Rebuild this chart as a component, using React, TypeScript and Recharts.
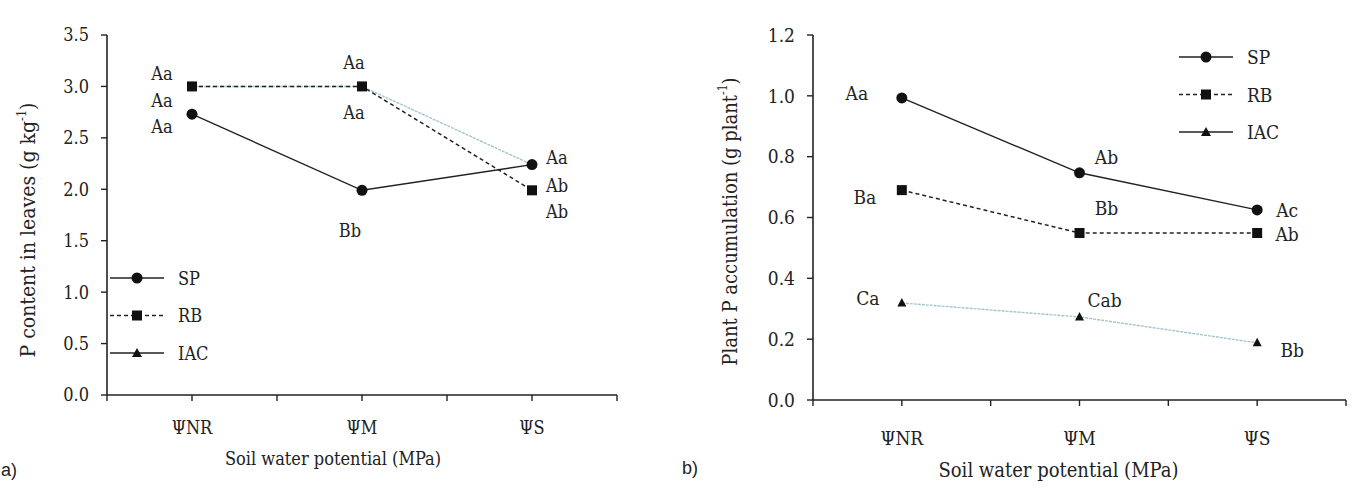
import React from 'react';
import { LineChart, Line, XAxis, YAxis, Legend, LabelList, Label } from 'recharts';

// categories on a numeric x axis (ticks 0..6, treatments at 1, 3, 5)
const categories = ['ΨNR', 'ΨM', 'ΨS'];
const catPos = [1, 3, 5];
const xTicks = [0, 1, 2, 3, 4, 5, 6];

// a) P content in leaves (g kg-1)
const leafSP = [2.73, 1.99, 2.24];
const leafRB = [3.0, 3.0, 1.99];
const leafIAC = [3.0, 3.0, 2.24];
const leafSPLetters = ['Aa', 'Bb', 'Aa'];
const leafRBLetters = ['Aa', 'Aa', 'Ab'];
const leafIACLetters = ['Aa', 'Aa', 'Ab'];
const leafTicks = [0, 0.5, 1, 1.5, 2, 2.5, 3, 3.5];

// b) Plant P accumulation (g plant-1)
const accSP = [0.993, 0.747, 0.625];
const accRB = [0.69, 0.549, 0.549];
const accIAC = [0.319, 0.273, 0.188];
const accSPLetters = ['Aa', 'Ab', 'Ac'];
const accRBLetters = ['Ba', 'Bb', 'Ab'];
const accIACLetters = ['Ca', 'Cab', 'Bb'];
const accTicks = [0, 0.2, 0.4, 0.6, 0.8, 1.0, 1.2];

const FONT = "'DejaVu Serif Condensed', 'DejaVu Serif', serif";
const SANS = "'Liberation Sans', Arial, sans-serif";
const INK = '#222';
const IAC_COLOR = '#a3c6cd';

// label offsets from each point, [dx, dy]
const leafOffsets: Record<string, number[][]> = {
  SP: [[-30, 12], [-12, 40], [25, -7]],
  RB: [[-30, -13], [-8, -24], [25, -5]],
  IAC: [[-30, 14], [-8, 26], [25, 47]],
};
const accOffsets: Record<string, number[][]> = {
  SP: [[-45, -5], [27, -16], [30, 0]],
  RB: [[-37, 7], [27, -25], [30, 1]],
  IAC: [[-34, -5], [25, -17], [35, 7]],
};

const buildRows = (sp: number[], rb: number[], iac: number[], spL: string[], rbL: string[], iacL: string[]) =>
  categories.map((c, i) => ({
    x: catPos[i],
    cat: c,
    SP: sp[i],
    RB: rb[i],
    IAC: iac[i],
    SP_lab: spL[i],
    RB_lab: rbL[i],
    IAC_lab: iacL[i],
  }));

const leafRows = buildRows(leafSP, leafRB, leafIAC, leafSPLetters, leafRBLetters, leafIACLetters);
const accRows = buildRows(accSP, accRB, accIAC, accSPLetters, accRBLetters, accIACLetters);

const circleDot = (p: any) => <circle key={p.key} cx={p.cx} cy={p.cy} r={5.5} fill="#111" />;
const squareDot = (p: any) => <rect key={p.key} x={p.cx - 5} y={p.cy - 5} width={10} height={10} fill="#111" />;
const triDot = (p: any) => (
  <path key={p.key} d={`M${p.cx},${p.cy - 5} L${p.cx + 4.5},${p.cy + 3.5} L${p.cx - 4.5},${p.cy + 3.5} Z`} fill="#111" />
);

const legendItems = [
  { name: 'SP', dash: undefined, marker: 'circle' },
  { name: 'RB', dash: '4 3', marker: 'square' },
  { name: 'IAC', dash: undefined, marker: 'triangle' },
];

const LegendBox = ({ size }: { size: number }) => (
  <svg width={140} height={115}>
    {legendItems.map((it, i) => {
      const y = 12 + i * 37.5;
      return (
        <g key={it.name}>
          <line x1={2} x2={56} y1={y} y2={y} stroke={INK} strokeWidth={1.4} strokeDasharray={it.dash} />
          {it.marker === 'circle' && <circle cx={29} cy={y} r={5.5} fill="#111" />}
          {it.marker === 'square' && <rect x={24} y={y - 5} width={10} height={10} fill="#111" />}
          {it.marker === 'triangle' && <path d={`M29,${y - 5} L34,${y + 4} L24,${y + 4} Z`} fill="#111" />}
          <text x={70} y={y} dominantBaseline="central" fontFamily={FONT} fontSize={size} fill={INK}>
            {it.name}
          </text>
        </g>
      );
    })}
  </svg>
);

const letterLabel = (offsets: number[][], size: number) => (props: any) => {
  const { x, y, value, index } = props;
  const [dx, dy] = offsets[index];
  return (
    <text x={x + dx} y={y + dy} textAnchor="middle" dominantBaseline="central" fontFamily={FONT} fontSize={size} fill={INK}>
      {value}
    </text>
  );
};

interface PanelProps {
  rows: any[];
  ticks: number[];
  yMax: number;
  width: number;
  yAxisWidth: number;
  rightMargin: number;
  bottomOffset: number;
  offsets: Record<string, number[][]>;
  yTitle: string;
  yTitleX: number;
  yTitleDy: number;
  yTitleSize: number;
  xTitleDx: number;
  xTitleDy: number;
  xTitleSize: number;
  textSize: number;
  tickMargin: number;
  legendPos: { left: number; top: number };
}

function Panel(props: PanelProps) {
  const {
    rows, ticks, yMax, width, yAxisWidth, rightMargin, bottomOffset, offsets,
    yTitle, yTitleX, yTitleDy, yTitleSize, xTitleDx, xTitleDy, xTitleSize, textSize, tickMargin, legendPos,
  } = props;
  const fmtX = (v: number) => {
    const i = catPos.indexOf(v);
    return i >= 0 ? categories[i] : '';
  };
  return (
    <LineChart
      width={width}
      height={491}
      data={rows}
      margin={{ top: 35, right: rightMargin, left: 0, bottom: bottomOffset - 60 }}
    >
      <XAxis
        dataKey="x"
        type="number"
        domain={[0, 6]}
        ticks={xTicks}
        tickFormatter={fmtX}
        interval={0}
        height={60}
        axisLine={{ stroke: INK, strokeWidth: 1.6 }}
        tickLine={{ stroke: INK, strokeWidth: 1.4 }}
        tickSize={6}
        tickMargin={tickMargin}
        tick={{ fill: INK, fontFamily: FONT, fontSize: textSize }}
      >
        <Label
          content={(lp: any) => {
            const vb = lp.viewBox;
            return (
              <text
                x={vb.x + vb.width / 2 + xTitleDx}
                y={vb.y + xTitleDy}
                textAnchor="middle"
                dominantBaseline="central"
                fontFamily={FONT}
                fontSize={xTitleSize}
                fill={INK}
              >
                Soil water potential (MPa)
              </text>
            );
          }}
        />
      </XAxis>
      <YAxis
        type="number"
        domain={[0, yMax]}
        ticks={ticks}
        tickFormatter={(v: number) => v.toFixed(1)}
        width={yAxisWidth}
        axisLine={{ stroke: INK, strokeWidth: 1.6 }}
        tickLine={{ stroke: INK, strokeWidth: 1.4 }}
        tickSize={6}
        tickMargin={12}
        tick={{ fill: INK, fontFamily: FONT, fontSize: textSize }}
      >
        <Label
          content={(lp: any) => {
            const vb = lp.viewBox;
            const cy = vb.y + vb.height / 2 + yTitleDy;
            return (
              <text
                x={yTitleX}
                y={cy}
                transform={`rotate(-90 ${yTitleX} ${cy})`}
                textAnchor="middle"
                dominantBaseline="central"
                fontFamily={FONT}
                fontSize={yTitleSize}
                fill={INK}
              >
                {yTitle}
                <tspan fontSize={yTitleSize * 0.6} dy={-7}>-1</tspan>
                <tspan dy={7}>)</tspan>
              </text>
            );
          }}
        />
      </YAxis>
      <Legend
        layout="vertical"
        align="center"
        verticalAlign="middle"
        content={() => <LegendBox size={textSize} />}
        wrapperStyle={{ position: 'absolute', left: legendPos.left, top: legendPos.top, width: 140, height: 115 }}
      />
      <Line
        dataKey="IAC"
        stroke={IAC_COLOR}
        strokeWidth={1.4}
        strokeDasharray="3 1"
        dot={triDot}
        activeDot={false}
        isAnimationActive={false}
        legendType="none"
      >
        <LabelList dataKey="IAC_lab" content={letterLabel(offsets.IAC, textSize)} />
      </Line>
      <Line
        dataKey="SP"
        stroke={INK}
        strokeWidth={1.4}
        dot={circleDot}
        activeDot={false}
        isAnimationActive={false}
      >
        <LabelList dataKey="SP_lab" content={letterLabel(offsets.SP, textSize)} />
      </Line>
      <Line
        dataKey="RB"
        stroke={INK}
        strokeWidth={1.5}
        strokeDasharray="4 3"
        dot={squareDot}
        activeDot={false}
        isAnimationActive={false}
      >
        <LabelList dataKey="RB_lab" content={letterLabel(offsets.RB, textSize)} />
      </Line>
    </LineChart>
  );
}

export default function App() {
  return (
    <div style={{ position: 'absolute', left: 0, top: 0, width: 1363, height: 491, background: '#fff', overflow: 'hidden' }}>
      <div style={{ position: 'absolute', left: 0, top: 0 }}>
        <Panel
          rows={leafRows}
          ticks={leafTicks}
          yMax={3.5}
          width={660}
          yAxisWidth={107}
          rightMargin={43}
          bottomOffset={96}
          offsets={leafOffsets}
          yTitle="P content in leaves (g kg"
          yTitleX={28}
          yTitleDy={15}
          yTitleSize={21}
          xTitleDx={-29}
          xTitleDy={63}
          xTitleSize={18}
          textSize={18}
          tickMargin={20}
          legendPos={{ left: 108, top: 266 }}
        />
      </div>
      <div style={{ position: 'absolute', left: 680, top: 0 }}>
        <Panel
          rows={accRows}
          ticks={accTicks}
          yMax={1.2}
          width={683}
          yAxisWidth={133}
          rightMargin={17}
          bottomOffset={91}
          offsets={accOffsets}
          yTitle="Plant P accumulation (g plant"
          yTitleX={50}
          yTitleDy={4}
          yTitleSize={20}
          xTitleDx={-21}
          xTitleDy={70}
          xTitleSize={20}
          textSize={19}
          tickMargin={26}
          legendPos={{ left: 497, top: 45 }}
        />
      </div>
      <svg width={1363} height={491} style={{ position: 'absolute', left: 0, top: 0, pointerEvents: 'none' }}>
        <text x={1} y={470} dominantBaseline="central" fontFamily={SANS} fontSize={18} fill="#222">a)</text>
        <text x={682} y={468} dominantBaseline="central" fontFamily={SANS} fontSize={18} fill="#222">b)</text>
      </svg>
    </div>
  );
}
